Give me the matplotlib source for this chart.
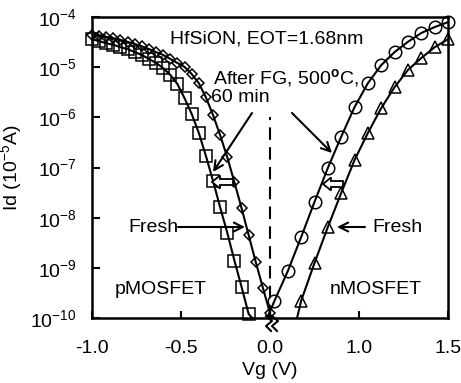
#!/usr/bin/env python

# Id-Vg curves of p- and nMOSFET, fresh and after forming gas anneal.

import numpy
import matplotlib
matplotlib.use('Agg')
import matplotlib.pyplot as plt
import matplotlib.lines
import matplotlib.patches
from matplotlib.transforms import IdentityTransform

plt.rcParams['font.family'] = ['Liberation Sans', 'DejaVu Sans']
plt.rcParams['mathtext.fontset'] = 'custom'
plt.rcParams['mathtext.rm'] = 'Liberation Sans'
plt.rcParams['mathtext.it'] = 'Liberation Sans:italic'
plt.rcParams['mathtext.bf'] = 'Liberation Sans:bold'
plt.rcParams['font.size'] = 14

# x values are positions along the (broken) Vg axis
x_ticks = [-1.0, -0.5, 0.0, 0.5, 1.0]
x_ticklabels = ['-1.0', '-0.5', '0.0', '1.0', '1.5']

# pMOSFET fresh (squares)
vg_p_fresh = [-1.00, -0.96, -0.92, -0.88, -0.84, -0.80, -0.76, -0.72, -0.68,
              -0.64, -0.60, -0.56, -0.52, -0.48, -0.44, -0.40, -0.36, -0.32,
              -0.28, -0.24, -0.20, -0.16, -0.12]
id_p_fresh = [3.6e-5, 3.3e-5, 3.0e-5, 2.8e-5, 2.5e-5, 2.3e-5, 2.0e-5, 1.75e-5,
              1.46e-5, 1.21e-5, 9.6e-6, 7.0e-6, 4.6e-6, 2.4e-6, 1.17e-6,
              4.9e-7, 1.7e-7, 5.4e-8, 1.6e-8, 5.0e-9, 1.4e-9, 4.2e-10, 1.2e-10]
p_fresh_end = (-0.10, 1e-10)

# pMOSFET after FG (diamonds)
vg_p_fg = [-1.00, -0.96, -0.92, -0.88, -0.84, -0.80, -0.76, -0.72, -0.68,
           -0.64, -0.60, -0.56, -0.52, -0.48, -0.44, -0.40, -0.36, -0.32,
           -0.28, -0.24, -0.20, -0.16, -0.12, -0.08, -0.04, 0.00]
id_p_fg = [4.4e-5, 4.2e-5, 4.0e-5, 3.8e-5, 3.5e-5, 3.2e-5, 2.9e-5, 2.6e-5,
           2.3e-5, 2.0e-5, 1.75e-5, 1.46e-5, 1.21e-5, 1.01e-5, 7.3e-6, 4.8e-6,
           2.5e-6, 1.11e-6, 4.4e-7, 1.6e-7, 5.1e-8, 1.56e-8, 4.5e-9, 1.3e-9,
           4.0e-10, 1.26e-10]
p_fg_end = (0.005, 1e-10)

# nMOSFET after FG (circles)
vg_n_fg = [0.025, 0.100, 0.175, 0.250, 0.325, 0.400, 0.475, 0.550, 0.625,
           0.700, 0.775, 0.850, 0.925, 1.000]
id_n_fg = [2.2e-10, 8.6e-10, 4.1e-9, 2.06e-8, 9.8e-8, 4.1e-7, 1.6e-6, 4.8e-6,
           1.1e-5, 2.0e-5, 3.2e-5, 4.8e-5, 6.3e-5, 7.9e-5]
n_fg_end = (-0.015, 1e-10)

# nMOSFET fresh (triangles)
vg_n_fresh = [0.175, 0.250, 0.325, 0.400, 0.475, 0.550, 0.625, 0.700, 0.775,
              0.850, 0.925, 1.000]
id_n_fresh = [2.2e-10, 1.25e-9, 6.5e-9, 3.1e-8, 1.41e-7, 4.9e-7, 1.53e-6,
              4.0e-6, 8.8e-6, 1.52e-5, 2.5e-5, 3.6e-5]
n_fresh_end = (0.152, 1e-10)

W, H = 461, 383
fig = plt.figure(figsize=(W/100, H/100), dpi=100)
ax = fig.add_axes([92/W, (H-318)/H, 356/W, 301/H])

# Figure-pixel helper (y measured from the top)
def fp(x, y):
    return (x, H - y)

series = [(vg_p_fresh, id_p_fresh, p_fresh_end, 's', 8),
          (vg_p_fg, id_p_fg, p_fg_end, 'D', 5.6),
          (vg_n_fg, id_n_fg, n_fg_end, 'o', 9),
          (vg_n_fresh, id_n_fresh, n_fresh_end, '^', 8.5)]
for vg, idd, end, mk, ms in series:
    # the fit line runs on down to the bottom axis
    if vg[0] < 0:
        lx = numpy.append(vg, end[0])
        ly = numpy.append(idd, end[1])
    else:
        lx = numpy.insert(vg, 0, end[0])
        ly = numpy.insert(idd, 0, end[1])
    ax.plot(lx, ly, color='k', lw=1.5, zorder=3)
    ax.plot(vg, idd, linestyle='none', marker=mk, markersize=ms,
            markerfacecolor='none', markeredgecolor='k', markeredgewidth=1.1,
            clip_on=False, zorder=4)

# Vg = 0 dashed line
ax.axvline(0.0, ymin=0, ymax=0.668, color='k', lw=1.5, dashes=(6, 3.5))

ax.set_yscale('log')
ax.set_ylim(1e-10, 1e-4)
ax.set_xlim(-1.0, 1.0)
ax.set_xticks(x_ticks)
ax.set_xticklabels(x_ticklabels)
ax.set_yticks([1e-10, 1e-9, 1e-8, 1e-7, 1e-6, 1e-5, 1e-4])
ax.minorticks_off()
ax.tick_params(axis='x', direction='in', length=5, width=1.5, pad=16)
ax.tick_params(axis='y', direction='in', length=6, width=1.5, pad=11)
for s in ax.spines.values():
    s.set_linewidth(1.8)

ax.set_xlabel('Vg (V)')
ax.xaxis.set_label_coords(0.5, -0.145)
ax.set_ylabel('Id (10$^{-5}$A)')
ax.yaxis.set_label_coords(-0.19, 0.5)

# Texts
def ftext(x, y, s, **kw):
    fig.text(x/W, 1 - y/H, s, va='center', ha='left', **kw)

ftext(170, 39, 'HfSiON, EOT=1.68nm')
ftext(213, 78, 'After FG, 500$^{\\mathbf{o}}$C,')
ftext(211, 98, '60 min')
ftext(128, 227, 'Fresh')
ftext(372, 227, 'Fresh')
ftext(115, 290, 'pMOSFET')
ftext(330, 290, 'nMOSFET')

# Arrows
arrows = [((252, 113), (213, 172)),
          ((292, 113), (332, 153)),
          ((178, 227), (245, 227)),
          ((365, 227), (337, 227))]
for tail, head in arrows:
    ax.annotate('', xy=fp(*head), xytext=fp(*tail),
                xycoords='figure pixels', textcoords='figure pixels',
                arrowprops=dict(arrowstyle='->', lw=1.5, color='k',
                                mutation_scale=16, shrinkA=0, shrinkB=0))

# Hollow shift arrows
for tip_x, tip_y, tail_x in [(212, 182, 233), (323, 184, 343)]:
    fa = matplotlib.patches.FancyArrow(tail_x, H - tip_y, tip_x - tail_x, 0,
                                       width=6, head_width=13, head_length=8,
                                       length_includes_head=True,
                                       transform=IdentityTransform(),
                                       facecolor='white', edgecolor='k',
                                       linewidth=1.3, zorder=5, clip_on=False)
    ax.add_patch(fa)

# Axis break mark
for dx in [0, 6]:
    pts = numpy.array([fp(266+dx, 316), fp(272+dx, 321),
                       fp(266+dx, 326), fp(271+dx, 331)])
    fig.add_artist(matplotlib.lines.Line2D(pts[:, 0], pts[:, 1], color='k',
                                           lw=1.5, transform=IdentityTransform()))

fig.savefig('out.png', dpi=100)
